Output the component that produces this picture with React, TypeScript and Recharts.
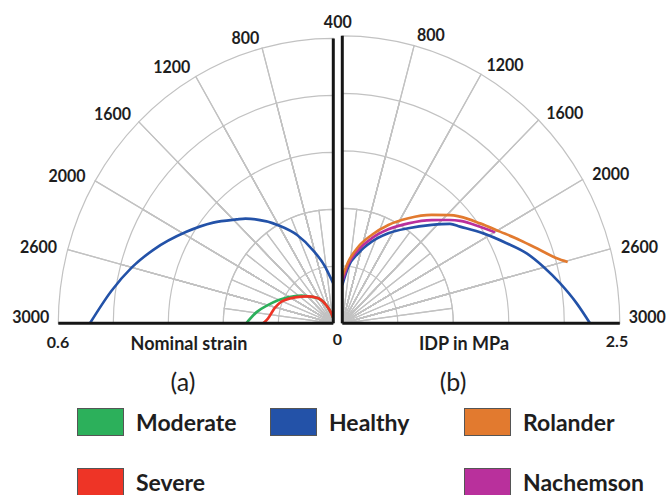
import { PieChart, Pie, LineChart, Line, XAxis, YAxis, ReferenceLine } from 'recharts';

// spoke labels, from the top spoke (0 deg) down to the horizontal one (90 deg)
const angleTicks = ['400', '800', '1200', '1600', '2000', '2600', '3000'];

// (a) nominal strain; angles are degrees from the "400" spoke
const moderateAngle = [90, 82, 75, 68, 61, 50, 44, 32, 22, 12, 3];
const moderateStrain = [0.19, 0.169, 0.148, 0.13, 0.113, 0.091, 0.079, 0.062, 0.041, 0.022, 0.012];
const severeAngle = [90, 86, 76, 68, 57, 44, 32, 22, 12, 3];
const severeStrain = [0.153, 0.143, 0.132, 0.122, 0.1, 0.079, 0.062, 0.041, 0.022, 0.012];
const healthyStrainAngle = [90, 82, 75, 68.5, 59, 51, 44, 41, 30, 23, 16, 8.6, 4, 0];
const healthyStrain = [0.531, 0.489, 0.455, 0.422, 0.374, 0.337, 0.304, 0.292, 0.238, 0.202, 0.16, 0.121, 0.098, 0.084];

// (b) IDP in MPa
const healthyIdpAngle = [0, 6.3, 13.3, 20.5, 27.9, 35.7, 43.3, 48.3, 51.6, 58.4, 64.8, 69.9, 74.8, 79.9, 85.3, 90];
const healthyIdp = [0.333, 0.495, 0.626, 0.758, 0.886, 1.018, 1.175, 1.299, 1.353, 1.492, 1.636, 1.769, 1.877, 1.992, 2.119, 2.232];
const rolanderAngle = [0, 5.8, 12.2, 19, 25.9, 33.1, 40.5, 45.9, 48.8, 55, 60.7, 65.7, 70.3, 73.7, 75.3];
const rolanderIdp = [0.405, 0.539, 0.681, 0.812, 0.95, 1.09, 1.239, 1.352, 1.408, 1.515, 1.629, 1.757, 1.892, 2.013, 2.099];
const nachemsonAngle = [0, 6, 12.7, 19.7, 26.9, 34.4, 41.9, 47.2, 50, 55.9, 60.1];
const nachemsonIdp = [0.363, 0.518, 0.654, 0.785, 0.916, 1.053, 1.206, 1.322, 1.386, 1.498, 1.587];

const COLORS = {
  Moderate: '#2cb05b',
  Healthy: '#2352a8',
  Rolander: '#e27a2f',
  Severe: '#ee3426',
  Nachemson: '#b9309c',
};

const FONT = 'Lato, "Open Sans", sans-serif';
const GRID = '#c2c2c2';
const H = 335;
const CY = 323.3;
const STRETCH = 1.036; // the figure is a bit taller than wide

type Series = { name: keyof typeof COLORS; angles: number[]; values: number[] };

const toXY = (angles: number[], values: number[], dir: number) =>
  angles.map((a, i) => ({
    x: dir * values[i] * Math.sin((a * Math.PI) / 180),
    y: values[i] * Math.cos((a * Math.PI) / 180),
  }));

const sectors = angleTicks.slice(1).map((t) => ({ t, w: 1 }));
const innerSectors = Array.from({ length: 12 }, (_, i) => ({ t: i, w: 1 }));

const tickLabel = (side: 'left' | 'right') => (p: any) => {
  const a = p.midAngle;
  const near90 = Math.abs(a - 90) < 1;
  const flat = Math.abs(a - 180) < 1 || Math.abs(a) < 1;
  const r = p.outerRadius + (near90 ? 16 : flat ? 9 : 11);
  let x = p.cx + r * Math.cos((a * Math.PI) / 180);
  let y = p.cy - r * Math.sin((a * Math.PI) / 180);
  let anchor = side === 'left' ? 'end' : 'start';
  if (near90) {
    anchor = 'middle';
    x += 4.5;
  }
  if (flat) y -= 7;
  return (
    <text
      key={p.name}
      x={x}
      y={y}
      textAnchor={anchor}
      dominantBaseline="central"
      fontSize={16}
      fontWeight={700}
      fontFamily={FONT}
      fill="#1e1e1e"
    >
      {p.name}
    </text>
  );
};

interface PanelProps {
  side: 'left' | 'right';
  left: number;
  width: number;
  cx: number;
  R: number;
  max: number;
  series: Series[];
}

const Panel = ({ side, left, width, cx, R, max, series }: PanelProps) => {
  const dir = side === 'left' ? -1 : 1;
  const end = side === 'left' ? 180 : 0;
  const ticks = side === 'left' ? angleTicks : angleTicks.slice(1);
  const tickData = ticks.map((label) => ({ label, w: 1 }));
  const labelEnd = side === 'left' ? 82.5 + 15 * ticks.length : 82.5 - 15 * ticks.length;
  const margin =
    side === 'left'
      ? { top: CY - R, left: cx - R, right: width - cx, bottom: H - CY }
      : { top: CY - R, left: cx, right: width - cx - R, bottom: H - CY };

  return (
    <div
      style={{
        position: 'absolute',
        left,
        top: 0,
        width,
        height: H,
        transform: `scaleY(${STRETCH})`,
        transformOrigin: `${cx}px ${CY}px`,
      }}
    >
      <div style={{ position: 'absolute', left: 0, top: 0 }}>
        <PieChart width={width} height={H} margin={{ top: 0, right: 0, bottom: 0, left: 0 }}>
          <Pie
            data={innerSectors}
            dataKey="w"
            cx={cx}
            cy={CY}
            innerRadius={0}
            outerRadius={(R * 2) / 5}
            startAngle={90}
            endAngle={end}
            fill="none"
            stroke={GRID}
            strokeWidth={1.2}
            isAnimationActive={false}
          />
          {[1, 2, 3, 4, 5].map((k) => (
            <Pie
              key={k}
              data={sectors}
              dataKey="w"
              cx={cx}
              cy={CY}
              innerRadius={0}
              outerRadius={(R * k) / 5}
              startAngle={90}
              endAngle={end}
              fill="none"
              stroke={GRID}
              strokeWidth={1.2}
              isAnimationActive={false}
            />
          ))}
          {/* invisible slices centred on each spoke, only used to place the spoke labels */}
          <Pie
            data={tickData}
            dataKey="w"
            nameKey="label"
            cx={cx}
            cy={CY}
            innerRadius={0}
            outerRadius={R}
            startAngle={82.5}
            endAngle={labelEnd}
            fill="transparent"
            stroke="transparent"
            strokeWidth={0}
            fillOpacity={0}
            strokeOpacity={0}
            label={tickLabel(side)}
            labelLine={false}
            isAnimationActive={false}
          />
        </PieChart>
      </div>
      <div style={{ position: 'absolute', left: 0, top: 0 }}>
        <LineChart width={width} height={H} margin={margin}>
          <XAxis
            type="number"
            dataKey="x"
            domain={side === 'left' ? [-max, 0] : [0, max]}
            allowDataOverflow
            hide
          />
          <YAxis type="number" dataKey="y" domain={[0, max]} allowDataOverflow hide />
          {series.map((s) => (
            <Line
              key={s.name}
              data={toXY(s.angles, s.values, dir)}
              dataKey="y"
              type="monotone"
              stroke={COLORS[s.name]}
              strokeWidth={2.6}
              dot={false}
              activeDot={false}
              isAnimationActive={false}
            />
          ))}
          <ReferenceLine x={0} stroke="#151515" strokeWidth={3} />
          <ReferenceLine y={0} stroke="#151515" strokeWidth={3} />
        </LineChart>
      </div>
    </div>
  );
};

const strainSeries: Series[] = [
  { name: 'Moderate', angles: moderateAngle, values: moderateStrain },
  { name: 'Severe', angles: severeAngle, values: severeStrain },
  { name: 'Healthy', angles: healthyStrainAngle, values: healthyStrain },
];

const idpSeries: Series[] = [
  { name: 'Healthy', angles: healthyIdpAngle, values: healthyIdp },
  { name: 'Nachemson', angles: nachemsonAngle, values: nachemsonIdp },
  { name: 'Rolander', angles: rolanderAngle, values: rolanderIdp },
];

const legendRows: string[][] = [
  ['Moderate', 'Healthy', 'Rolander'],
  ['Severe', '', 'Nachemson'],
];
const legendX = [77, 270, 464];
const legendY = [408, 468];

const Label = ({ x, y, text, size, weight = 700 }: { x: number; y: number; text: string; size: number; weight?: number }) => (
  <div
    style={{
      position: 'absolute',
      left: x,
      top: y,
      transform: 'translate(-50%, -50%)',
      fontFamily: FONT,
      fontSize: size,
      fontWeight: weight,
      color: '#1e1e1e',
      whiteSpace: 'nowrap',
      lineHeight: 1,
    }}
  >
    {text}
  </div>
);

export default function App() {
  return (
    <div
      style={{
        position: 'absolute',
        left: 0,
        top: 0,
        width: 667,
        height: 495,
        overflow: 'hidden',
        background: '#fff',
      }}
    >
      <Panel side="left" left={0} width={360} cx={333.3} R={275} max={0.6} series={strainSeries} />
      <Panel side="right" left={337} width={330} cx={5.3} R={277.5} max={2.5} series={idpSeries} />

      <Label x={58} y={342} text="0.6" size={16} />
      <Label x={189} y={343} text="Nominal strain" size={18} />
      <Label x={337.5} y={339} text="0" size={16} />
      <Label x={464} y={343} text="IDP in MPa" size={18} />
      <Label x={617} y={341} text="2.5" size={16} />
      <Label x={183} y={381} text="(a)" size={25} weight={400} />
      <Label x={453} y={381} text="(b)" size={25} weight={400} />

      {legendRows.map((row, ri) =>
        row.map((name, ci) =>
          name ? (
            <div
              key={name}
              style={{
                position: 'absolute',
                left: legendX[ci],
                top: legendY[ri],
                display: 'flex',
                alignItems: 'center',
                fontFamily: FONT,
                fontSize: 23,
                fontWeight: 700,
                color: '#1e1e1e',
              }}
            >
              <div
                style={{
                  width: 45,
                  height: 26,
                  background: COLORS[name as keyof typeof COLORS],
                  border: '1px solid #555',
                  marginRight: 12,
                }}
              />
              <span>{name}</span>
            </div>
          ) : null,
        ),
      )}
    </div>
  );
}
